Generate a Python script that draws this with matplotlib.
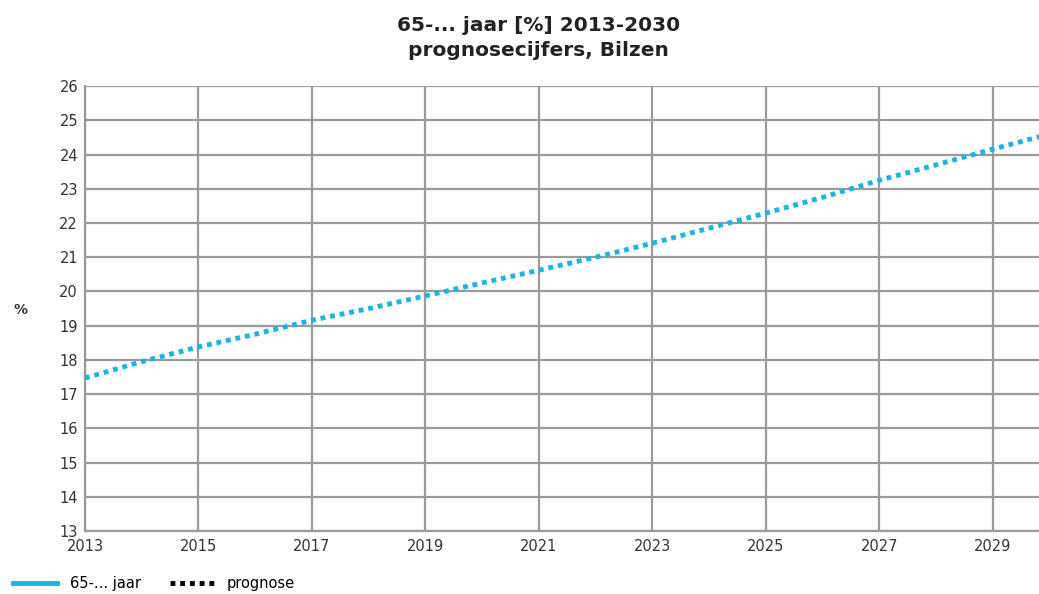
import numpy as np
import matplotlib.pyplot as plt

years = [2013, 2014, 2015, 2016, 2017, 2018, 2019, 2020, 2021,
         2022, 2023, 2024, 2025, 2026, 2027, 2028, 2029, 2030]
pct = [17.47, 17.95, 18.38, 18.75, 19.16, 19.5, 19.87, 20.25, 20.62,
       21.0, 21.41, 21.85, 22.29, 22.75, 23.25, 23.7, 24.16, 24.6]
xticks = list(range(2013, 2030, 2))
yticks = list(range(13, 27))

cyan = "#1bb4e4"
grid = "#9a9a9a"

fig = plt.figure(figsize=(10.39, 5.94), dpi=100)
ax = fig.add_axes([0.0818, 0.106, 0.918, 0.749])

ax.plot(years, pct, color=cyan, lw=3.5, linestyle=(0, (1, 1)), zorder=3)

ax.set_xlim(2013, 2029.81)
ax.set_ylim(13, 26)
ax.set_xticks(xticks)
ax.set_yticks(yticks)
ax.grid(True, color=grid, lw=1.6)
ax.tick_params(length=0, labelsize=10.5, colors="#333333")
ax.tick_params(axis="x", pad=6)
ax.tick_params(axis="y", pad=5)
for s in ["top", "right"]:
    ax.spines[s].set_visible(False)
for s in ["left", "bottom"]:
    ax.spines[s].set_color(grid)
    ax.spines[s].set_linewidth(1.6)

ax.set_ylabel("%", rotation=0, fontsize=10, fontweight="bold", color="#333333")
ax.yaxis.set_label_coords(-0.068, 0.48)

fig.text(0.518, 0.957, "65-... jaar [%] 2013-2030", ha="center", va="center",
         fontsize=14.5, fontweight="bold", color="#222222")
fig.text(0.518, 0.915, "prognosecijfers, Bilzen", ha="center", va="center",
         fontsize=14.5, fontweight="bold", color="#222222")

h1, = ax.plot([], [], color=cyan, lw=3.5)
h2, = ax.plot([], [], color="black", lw=3.5, linestyle=(0, (1, 1)))
fig.legend([h1, h2], ["65-... jaar", "prognose"], loc="lower left",
           bbox_to_anchor=(0.0, -0.017), ncol=2, frameon=False, fontsize=10.5,
           handlelength=3, columnspacing=2.0, handletextpad=0.9)

fig.savefig("out.png", dpi=100)
